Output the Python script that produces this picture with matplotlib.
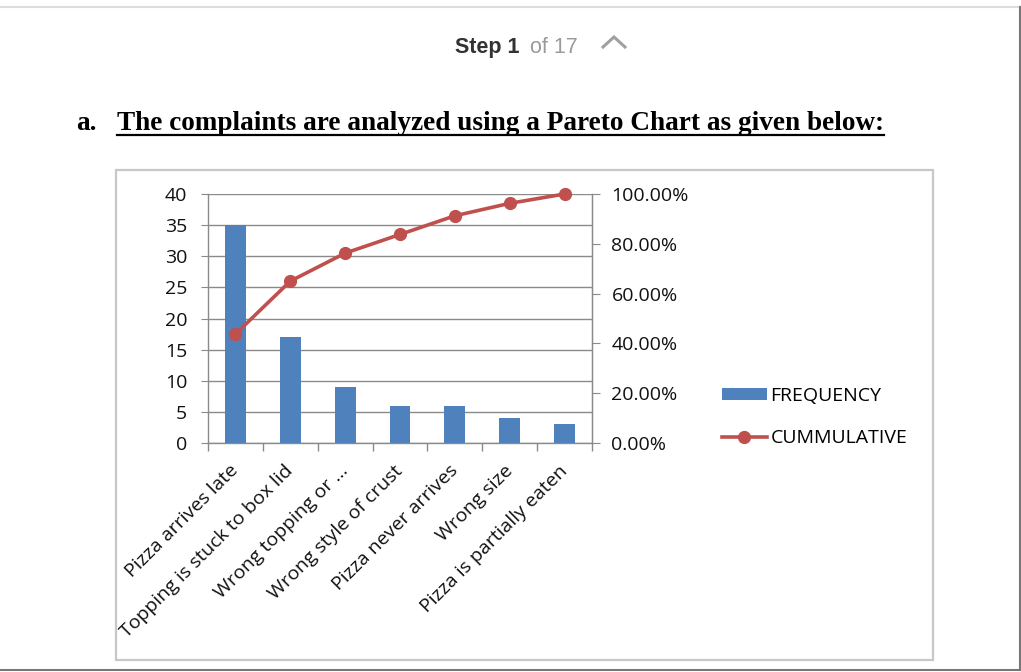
import matplotlib
matplotlib.use("Agg")
import matplotlib.pyplot as plt
from matplotlib.lines import Line2D
from matplotlib.patches import Rectangle
from matplotlib.ticker import FuncFormatter, FixedLocator

# data
categories = [
    "Pizza arrives late",
    "Topping is stuck to box lid",
    "Wrong topping or ...",
    "Wrong style of crust",
    "Pizza never arrives",
    "Wrong size",
    "Pizza is partially eaten",
]
frequency = [35, 17, 9, 6, 6, 4, 3]
cumulative = [0.4375, 0.65, 0.7625, 0.8375, 0.9125, 0.9625, 1.0]

left_ticks = [0, 5, 10, 15, 20, 25, 30, 35, 40]
right_ticks = [0.0, 0.2, 0.4, 0.6, 0.8, 1.0]

W, H = 1021, 672
BAR = "#4F81BD"
RED = "#C0504D"
GRID = "#8A8A8A"
FONT = "Open Sans"
TXT = "#111111"
FS = 14


def fx(px):
    return px / W


def fy(py):
    return 1 - py / H


fig = plt.figure(figsize=(W / 100, H / 100), dpi=100)
fig.patch.set_facecolor("white")

# page decoration: top rule, right and bottom edges
fig.add_artist(Line2D([0, 1], [fy(7), fy(7)], color="#DDDDDD", lw=1.5))
fig.add_artist(Line2D([fx(1019.5), fx(1019.5)], [fy(7), fy(670)], color="#777777", lw=1.5))
fig.add_artist(Line2D([0, fx(1020)], [fy(669.5), fy(669.5)], color="#777777", lw=1.5))

# "Step 1 of 17 ^"
fig.text(fx(455), fy(53), "Step 1", fontsize=15.5, fontweight="bold",
         color="#333333", family="Liberation Sans", va="baseline")
fig.text(fx(530), fy(53), "of 17", fontsize=15.5, color="#9A9A9A",
         family="Liberation Sans", va="baseline")
fig.add_artist(Line2D([fx(603), fx(614), fx(625)], [fy(47), fy(37), fy(47)],
                      color="#A0A0A0", lw=2.2, solid_joinstyle="miter"))

# heading
fig.text(fx(76), fy(130), "a.", fontsize=19.6, fontweight="bold",
         family="Liberation Serif", va="baseline")
head = fig.text(fx(117), fy(130), "The complaints are analyzed using a Pareto Chart as given below:",
                fontsize=19.6, fontweight="bold", family="Liberation Serif", va="baseline")
fig.canvas.draw()
bb = head.get_window_extent()
fig.add_artist(Line2D([bb.x0 / W, bb.x1 / W], [fy(134.5), fy(134.5)], color="black", lw=1.6))

# chart box
fig.add_artist(Rectangle((fx(116), fy(660)), fx(933) - fx(116), fy(170) - fy(660),
                         fill=False, edgecolor="#C8C8C8", lw=1.6))

ax = fig.add_axes([fx(208), fy(443), fx(592) - fx(208), fy(194) - fy(443)])
x = list(range(len(categories)))
bars = ax.bar(x, frequency, width=0.38, color=BAR, zorder=3, label="FREQUENCY")
ax.set_xlim(-0.5, len(categories) - 0.5)
ax.set_ylim(0, 40)
ax.set_yticks(left_ticks)
ax.yaxis.grid(True, color=GRID, lw=1.0, zorder=0)
ax.set_axisbelow(True)
ax.tick_params(axis="y", length=5, color=GRID, pad=10, labelsize=FS, labelcolor=TXT)
for lab in ax.get_yticklabels():
    lab.set_family(FONT)

ax.set_xticks(x)
ax.set_xticklabels(categories, rotation=45, ha="right", va="center",
                   rotation_mode="anchor", fontsize=FS, family=FONT, color=TXT)
ax.tick_params(axis="x", which="major", length=0, pad=18)
ax.xaxis.set_minor_locator(FixedLocator([i - 0.5 for i in range(len(categories) + 1)]))
ax.tick_params(axis="x", which="minor", length=6, color=GRID, width=1)

ax.spines["top"].set_visible(False)
for s in ["left", "bottom", "right"]:
    ax.spines[s].set_color(GRID)
    ax.spines[s].set_linewidth(1.0)

ax2 = ax.twinx()
line, = ax2.plot(x, cumulative, color=RED, lw=2.6, marker="o", markersize=8.5,
                 zorder=5, clip_on=False, label="CUMMULATIVE")
ax2.set_ylim(0, 1)
ax2.set_yticks(right_ticks)
ax2.yaxis.set_major_formatter(FuncFormatter(lambda v, p: f"{v * 100:.2f}%"))
ax2.tick_params(axis="y", length=6, color=GRID, pad=8, labelsize=FS, labelcolor=TXT)
for lab in ax2.get_yticklabels():
    lab.set_family(FONT)
for s in ["top", "left", "bottom"]:
    ax2.spines[s].set_visible(False)
ax2.spines["right"].set_color(GRID)

fig.legend(handles=[bars, line], labels=["FREQUENCY", "CUMMULATIVE"],
           loc="upper left", bbox_to_anchor=(fx(714), fy(379)),
           frameon=False, prop={"family": FONT, "size": FS},
           handlelength=2.3, handleheight=0.6, handletextpad=0.2,
           labelspacing=1.25, borderaxespad=0)

fig.savefig("out.png", dpi=100, facecolor="white")
